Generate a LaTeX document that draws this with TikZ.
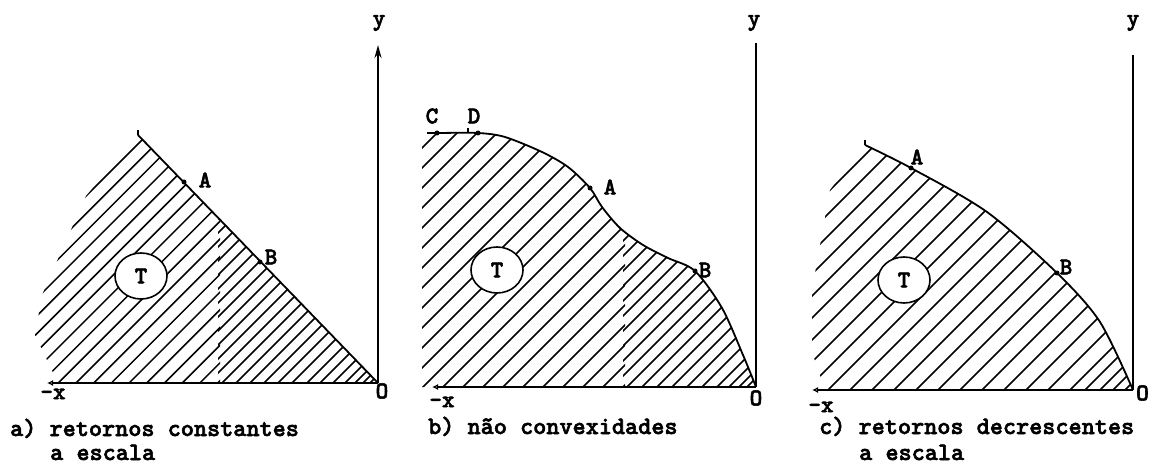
\documentclass[tikz,border=0pt]{standalone}
\usepackage{fontspec}
\newfontfamily\twfont{lmmonolt10-bold.otf}[FakeBold=2.2]
\usetikzlibrary{arrows.meta,shapes.geometric}

\tikzset{
  yaxisline/.style={line width=2.2pt},
  yaxisarrow/.style={line width=2.2pt, -{Stealth[length=13pt,width=7pt]}},
  xaxisline/.style={line width=1.6pt, {Latex[open,length=6pt,width=6pt]}-},
  frontier/.style={line width=1.8pt, line join=round},
  hatchline/.style={line width=1.5pt},
  ticktop/.style={line width=1.6pt},
  ptdot/.style={circle, fill=black, inner sep=0pt, minimum size=5pt},
  ptlabel/.style={font=\fontsize{24}{26}\selectfont\twfont, inner sep=0pt},
  tcircle/.style={ellipse, draw, line width=1.6pt, fill=white,
    minimum width=52pt, minimum height=46pt, inner sep=0pt,
    font=\fontsize{24}{26}\selectfont\twfont},
  captext/.style={anchor=base west, inner sep=0pt,
    font=\fontsize{25}{26}\selectfont\twfont},
}

\begin{document}
\begin{tikzpicture}[x=1pt, y=-1pt]
  \useasboundingbox (0,0) rectangle (1149,465);

  % ---- a) constant returns: straight frontier ----
  \coordinate (aO) at (378,383);
  \coordinate (aX) at (47,383);
  \coordinate (aY) at (378,45);
  \coordinate (aTop) at (138,135);
  \coordinate (aA) at (184,182);
  \coordinate (aB) at (260,262);

  % hatching, sparser left of the seam
  \begin{scope}
    \clip (0,0) rectangle (220,465);
    \clip (aTop) -- (aO) -- (58,383) -- (35,335) -- (42,295) -- (86,196) -- cycle;
    \foreach \c in {282,299.7,...,620} \draw[hatchline] ({\c-400},400) -- (\c,0);
  \end{scope}
  \begin{scope}
    \clip (218,0) rectangle (400,465);
    \clip (aTop) -- (aO) -- (58,383) -- cycle;
    \foreach \c in {437,451,...,675,690,703,716,728,738,746,753}
      \draw[hatchline] ({\c-400},400) -- (\c,0);
  \end{scope}

  \draw[frontier] (aTop) -- (aO);
  \draw[ticktop] (aTop) -- ++(0,-5);
  \draw[xaxisline] (aX) -- (aO);
  \draw[yaxisarrow] (aO) -- (aY);

  \node[tcircle] (aT) at (141,276) {T};
  \node[ptdot] (aDotA) at (aA) {};
  \node[ptdot] (aDotB) at (aB) {};
  \node[ptlabel] (aLabA) at (205,180) {A};
  \node[ptlabel] (aLabB) at (271,257) {B};
  \node[ptlabel] (aLabY) at (379,23) {y};
  \node[ptlabel] (aLabX) at (53,394) {-x};
  \node[ptlabel] (aLabO) at (382,391) {O};
  \node[captext] (capA1) at (10,436) {a) retornos constantes};
  \node[captext] (capA2) at (50,460) {a escala};

  % ---- b) non-convexities: wavy frontier ----
  \coordinate (bO) at (756,387);
  \coordinate (bX) at (432,387);
  \coordinate (bY) at (756,43);
  \coordinate (bL) at (427,133);
  \coordinate (bC) at (437,133);
  \coordinate (bD) at (478,133);
  \coordinate (b1) at (505,137);
  \coordinate (b2) at (542,152);
  \coordinate (b3) at (568,167);
  \coordinate (bA) at (590,188);
  \coordinate (b4) at (602,207);
  \coordinate (b5) at (620,228);
  \coordinate (b6) at (643,245);
  \coordinate (b7) at (668,258);
  \coordinate (bB) at (695,271);
  \coordinate (b8) at (722,308);
  \coordinate (b9) at (743,355);

  \begin{scope}
    \clip (0,0) rectangle (625,465);
    \clip (422,387) -- (422,133) -- plot[smooth, tension=0.5] coordinates
      {(bL) (bC) (bD) (b1) (b2) (b3) (bA) (b4) (b5) (b6) (b7) (bB) (b8) (b9) (bO)} -- cycle;
    \foreach \c in {550,570,...,1010} \draw[hatchline] ({\c-400},400) -- (\c,0);
  \end{scope}
  \begin{scope}
    \clip (623,0) rectangle (800,465);
    \clip (422,387) -- (422,133) -- plot[smooth, tension=0.5] coordinates
      {(bL) (bC) (bD) (b1) (b2) (b3) (bA) (b4) (b5) (b6) (b7) (bB) (b8) (b9) (bO)} -- cycle;
    \foreach \c in {849,864,...,1089,1104,1116,1126,1134}
      \draw[hatchline] ({\c-400},400) -- (\c,0);
  \end{scope}

  \draw[frontier] plot[smooth, tension=0.5] coordinates
    {(bL) (bC) (bD) (b1) (b2) (b3) (bA) (b4) (b5) (b6) (b7) (bB) (b8) (b9) (bO)};
  \draw[ticktop] (468,133) -- ++(0,-5);
  \draw[xaxisline] (bX) -- (bO);
  \draw[yaxisline] (bO) -- (bY);

  \node[tcircle] (bT) at (497,270) {T};
  \node[ptdot] (bDotC) at (bC) {};
  \node[ptdot] (bDotD) at (bD) {};
  \node[ptdot] (bDotA) at (bA) {};
  \node[ptdot] (bDotB) at (bB) {};
  \node[ptlabel] (bLabC) at (432,116) {C};
  \node[ptlabel] (bLabD) at (474,116) {D};
  \node[ptlabel] (bLabA) at (610,187) {A};
  \node[ptlabel] (bLabB) at (705,270) {B};
  \node[ptlabel] (bLabY) at (754,23) {y};
  \node[ptlabel] (bLabX) at (442,402) {-x};
  \node[ptlabel] (bLabO) at (756,398) {O};
  \node[captext] (capB) at (428,434) {b) não convexidades};

  % ---- c) decreasing returns: concave frontier ----
  \coordinate (cO) at (1133,390);
  \coordinate (cX) at (812,390);
  \coordinate (cY) at (1133,55);
  \coordinate (cTop) at (865,145);
  \coordinate (cA) at (911,168);
  \coordinate (c1) at (987,212);
  \coordinate (cB) at (1057,273);
  \coordinate (c2) at (1100,322);

  \begin{scope}
    \clip plot[smooth, tension=0.5] coordinates {(cTop) (cA) (c1) (cB) (c2) (cO)}
      -- (825,390) -- (812,352) -- (812,290) -- (830,190) -- cycle;
    \foreach \c in {1020,1042,...,1460,1475,1490,1503,1515}
      \draw[hatchline] ({\c-400},400) -- (\c,0);
  \end{scope}

  \draw[frontier] plot[smooth, tension=0.5] coordinates {(cTop) (cA) (c1) (cB) (c2) (cO)};
  \draw[ticktop] (cTop) -- ++(0,-5);
  \draw[xaxisline] (cX) -- (cO);
  \draw[yaxisline] (cO) -- (cY);

  \node[tcircle] (cT) at (904,280) {T};
  \node[ptdot] (cDotA) at (cA) {};
  \node[ptdot] (cDotB) at (cB) {};
  \node[ptlabel] (cLabA) at (917,157) {A};
  \node[ptlabel] (cLabB) at (1066,267) {B};
  \node[ptlabel] (cLabY) at (1133,23) {y};
  \node[ptlabel] (cLabX) at (821,407) {-x};
  \node[ptlabel, anchor=east] (cLabO) at (1149,393) {O};
  \node[captext] (capC1) at (819,434) {c) retornos decrescentes};
  \node[captext] (capC2) at (859,460) {a escala};
\end{tikzpicture}
\end{document}
